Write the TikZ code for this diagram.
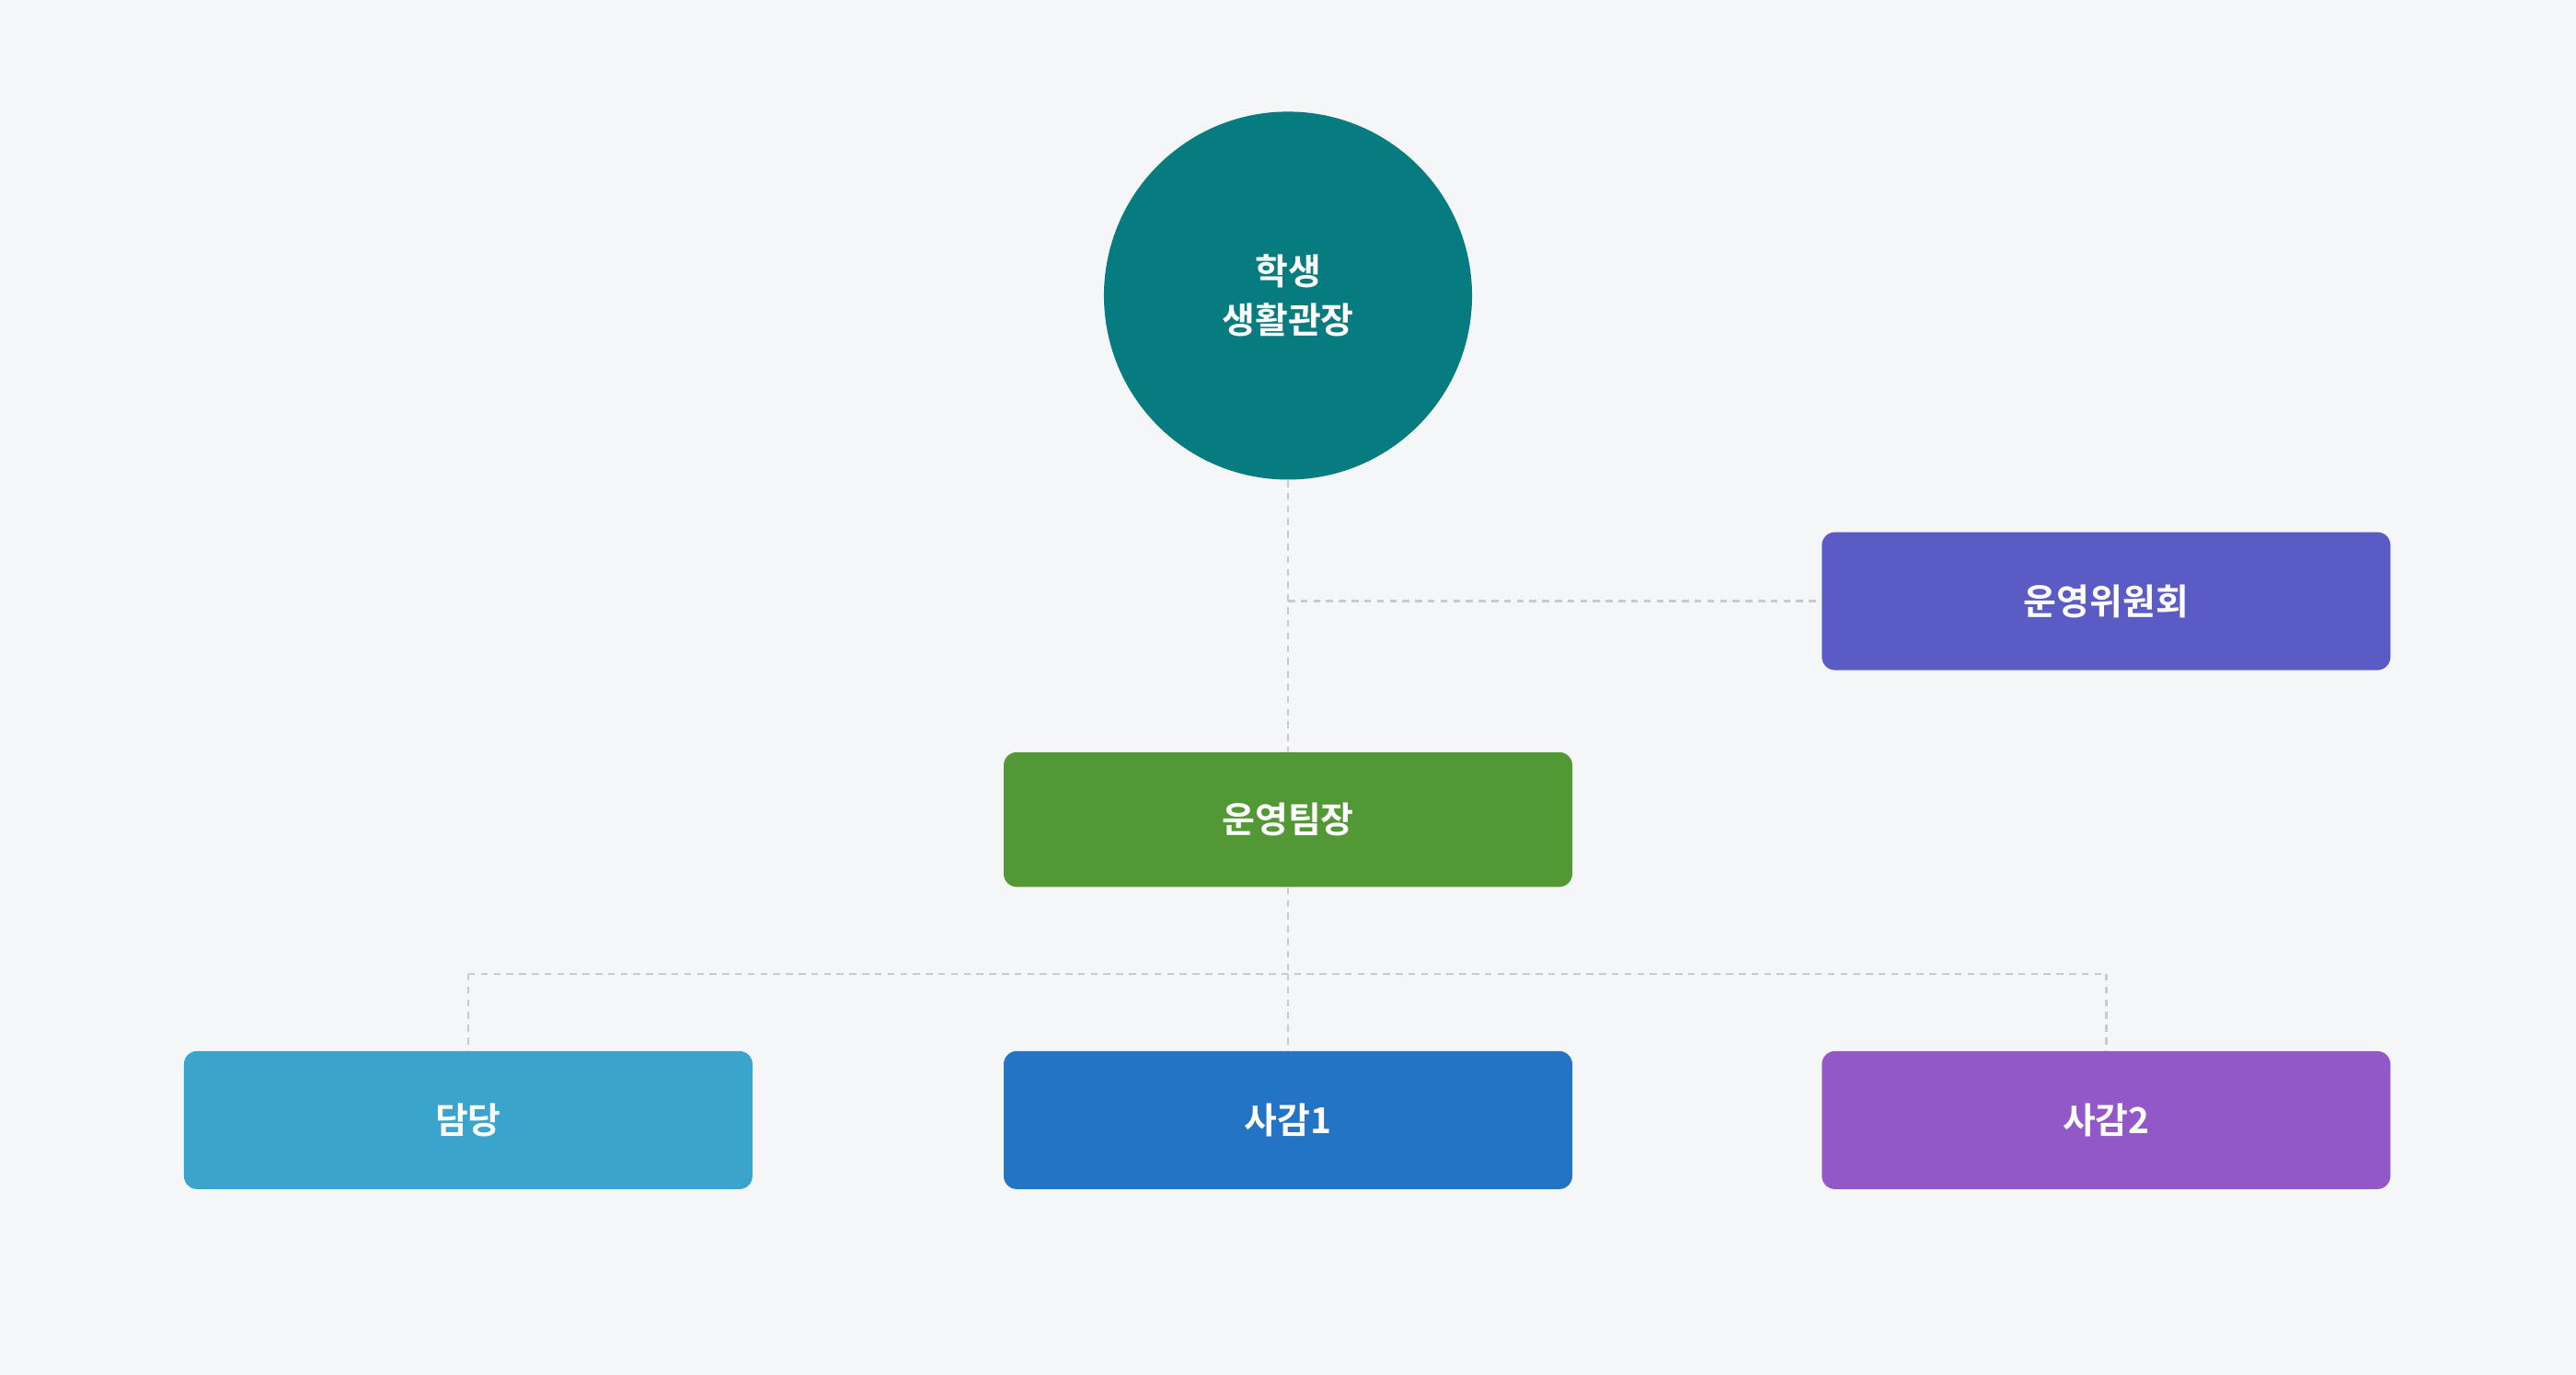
\documentclass[tikz,border=0pt]{standalone}
\usepackage{fontspec}
\setmainfont{Noto Sans CJK KR}[BoldFont={Noto Sans CJK KR Bold}]
\begin{document}
\begin{tikzpicture}[x=0.025cm,y=-0.025cm,
  box/.style={rounded corners=0.2cm,minimum width=8.65cm,minimum height=2.1cm,inner sep=0pt,text=white,font=\bfseries\fontsize{15.5}{21}\selectfont},
  link/.style={draw=lineg,line width=1.1pt,dash pattern=on 3pt off 2.5pt}]
\definecolor{bg}{HTML}{F5F6F8}
\definecolor{lineg}{HTML}{C8CACF}
\definecolor{teal}{HTML}{077C80}
\definecolor{cPurp}{HTML}{5B5BC6}
\definecolor{cGreen}{HTML}{529936}
\definecolor{cCyan}{HTML}{3BA4CC}
\definecolor{cBlue}{HTML}{2474C6}
\definecolor{cViolet}{HTML}{9358C7}
\fill[bg] (0,0) rectangle (1568,837);
\useasboundingbox (0,0) rectangle (1568,837);
\node[circle,fill=teal,minimum size=5.6cm,inner sep=0pt,text=white,align=center,font=\bfseries\fontsize{15.5}{21}\selectfont] (dir) at (784,180) {학생\\생활관장};
\node[box,fill=cPurp] (com) at (1282,366) {운영위원회};
\node[box,fill=cGreen,minimum height=2.05cm] (lead) at (784,499) {운영팀장};
\node[box,fill=cCyan] (dd) at (285,682) {담당};
\node[box,fill=cBlue] (s1) at (784,682) {사감1};
\node[box,fill=cViolet] (s2) at (1282,682) {사감2};
\coordinate (j1) at (784,366);
\coordinate (j2) at (784,593);
\coordinate (jl) at (285,593);
\coordinate (jr) at (1282,593);
\draw[link] (dir.south) -- (lead.north);
\draw[link] (j1) -- (com.west);
\draw[link] (lead.south) -- (j2);
\draw[link] (jl) -- (jr);
\draw[link] (jl) -- (dd.north);
\draw[link] (j2) -- (s1.north);
\draw[link] (jr) -- (s2.north);
\end{tikzpicture}
\end{document}
